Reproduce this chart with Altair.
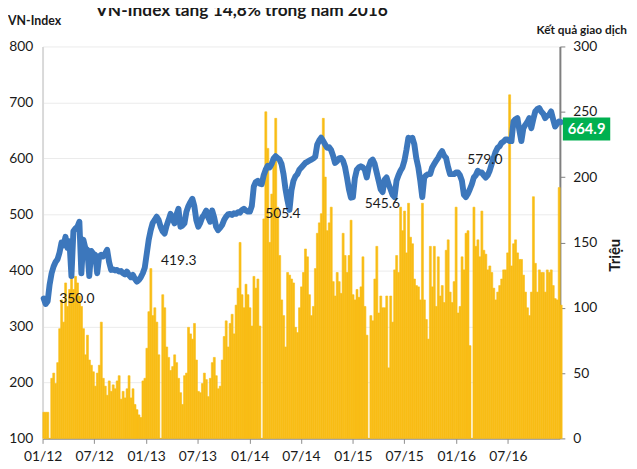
import altair as alt
import pandas as pd

# ---------------- data (weekly) ----------------
week_count = 262  # weeks starting 2012-01-02

vnindex_2012 = [350, 340, 345, 375, 395, 407, 415, 420, 432, 450, 445, 460, 440, 452, 390, 470,
                475, 478, 487, 395, 455, 440, 437, 390, 435, 430, 428, 395, 425, 428, 425, 430,
                437, 415, 401, 402, 400, 401, 398, 399, 395, 393, 398, 392, 388, 392, 385, 380,
                383, 388, 395, 405]
vnindex_2013 = [430, 455, 472, 485, 490, 496, 490, 478, 470, 466, 480, 490, 501, 492, 484, 500,
                510, 478, 480, 484, 505, 515, 522, 528, 515, 490, 478, 485, 495, 500, 507, 495,
                487, 507, 495, 478, 472, 476, 481, 490, 496, 500, 501, 499, 502, 501, 504, 503,
                508, 510, 507, 505]
vnindex_2014 = [505, 515, 550, 558, 560, 555, 554, 570, 580, 587, 584, 590, 600, 604, 601, 598,
                590, 572, 545, 525, 508, 543, 560, 568, 572, 580, 584, 588, 592, 594, 596, 598,
                600, 603, 625, 632, 637, 631, 625, 619, 620, 615, 605, 592, 595, 600, 601, 596,
                585, 566, 545, 530]
vnindex_2015 = [531, 565, 580, 584, 586, 584, 580, 566, 585, 595, 598, 590, 575, 560, 545, 540,
                562, 566, 554, 545, 535, 531, 560, 570, 578, 584, 596, 615, 637, 635, 637, 625,
                600, 584, 560, 531, 566, 570, 572, 572, 584, 590, 596, 601, 608, 613, 605, 601,
                585, 572, 572, 572]
vnindex_2016 = [575, 575, 570, 560, 535, 531, 537, 545, 554, 566, 570, 578, 575, 575, 570, 566,
                570, 578, 590, 601, 612, 619, 622, 628, 630, 634, 634, 631, 631, 666, 670, 672,
                650, 631, 654, 660, 665, 672, 654, 670, 684, 688, 690, 684, 680, 672, 676, 678,
                684, 670, 657, 662, 666, 664.9]

volume_2012 = [20, 20, 20, 0, 46, 50, 42, 58, 84, 106, 89, 119, 101, 114, 124, 114,
               124, 119, 109, 101, 84, 64, 79, 60, 56, 51, 40, 50, 56, 89, 46, 40,
               33, 44, 36, 41, 38, 44, 48, 30, 36, 31, 38, 48, 31, 38, 26, 22,
               18, 16, 44, 46]
volume_2013 = [69, 97, 130, 94, 100, 89, 64, 0, 110, 100, 70, 62, 52, 55, 64, 58,
               46, 35, 26, 48, 50, 85, 80, 76, 88, 60, 36, 35, 42, 50, 45, 32,
               46, 58, 62, 48, 38, 40, 60, 78, 90, 70, 88, 95, 80, 102, 115, 150,
               110, 100, 118, 110]
volume_2014 = [100, 86, 124, 115, 122, 86, 0, 168, 250, 222, 150, 187, 210, 245, 177, 140,
               106, 94, 70, 127, 125, 122, 119, 85, 81, 100, 116, 127, 145, 139, 110, 94,
               101, 130, 157, 165, 172, 245, 200, 159, 165, 177, 120, 109, 127, 120, 111, 157,
               140, 127, 140, 167]
volume_2015 = [110, 106, 114, 108, 116, 139, 101, 79, 0, 94, 90, 122, 147, 96, 109, 100,
               100, 109, 54, 109, 89, 129, 140, 127, 177, 159, 174, 142, 180, 154, 149, 122,
               117, 116, 106, 180, 106, 91, 76, 147, 116, 147, 101, 139, 109, 117, 104, 144,
               152, 112, 104, 120]
volume_2016 = [177, 96, 101, 139, 129, 157, 159, 71, 0, 177, 147, 152, 139, 174, 144, 141,
               129, 132, 127, 115, 106, 112, 117, 122, 129, 129, 142, 263, 132, 149, 152, 142,
               137, 137, 125, 112, 100, 94, 112, 185, 134, 112, 129, 127, 127, 112, 129, 127,
               129, 117, 107, 106, 192, 102]

label_text = ["350.0", "419.3", "505.4", "545.6", "579.0"]
label_date = ["2012-05-01", "2013-04-26", "2014-04-29", "2015-04-15", "2016-04-11"]
label_value = [349, 416, 501, 518, 597]

end_label = "664.9"
title_text = "VN-Index tăng 14,8% trong năm 2016"
left_title = "VN-Index"
right_top_title = "Kết quả giao dịch"
right_axis_title = "Triệu"

# ---------------- tables ----------------
vnindex = vnindex_2012 + vnindex_2013 + vnindex_2014 + vnindex_2015 + vnindex_2016
volume = volume_2012 + volume_2013 + volume_2014 + volume_2015 + volume_2016
start = pd.date_range("2012-01-02", periods=week_count, freq="7D")
df = pd.DataFrame({
    "start": start,
    "end": start + pd.Timedelta(days=7),
    "mid": start + pd.Timedelta(days=3),
    "vnindex": vnindex,
    "volume": volume,
})
lab_df = pd.DataFrame({"text": label_text, "date": pd.to_datetime(label_date), "v": label_value})

FONT = "Lato"
GOLD = "#F9BD16"
BLUE = "#3C77BC"
GREEN = "#00B050"
TXT = "#1a1a1a"

x_scale = alt.Scale(domain=[alt.DateTime(year=2012, month=1, date=1),
                            alt.DateTime(year=2017, month=1, date=1)])
tick_vals = [alt.DateTime(year=y, month=m, date=1) for y in range(2012, 2017) for m in (1, 7)]
x_axis = alt.Axis(values=tick_vals, format="%m/%y", title=None, labelFont=FONT, labelFontSize=14,
                  labelColor=TXT, domainColor="#8c8c8c", domainWidth=1.5, tickColor="#8c8c8c",
                  tickSize=5, labelPadding=6, grid=False, labelFlush=False, labelOverlap=False)

left_scale = alt.Scale(domain=[100, 800], nice=False, zero=False)
left_axis = alt.Axis(orient="left", values=list(range(100, 801, 100)), title=None, labelFont=FONT,
                     labelFontSize=14, labelColor=TXT, labelPadding=10, ticks=False, tickSize=0,
                     domainColor="#d9d9d9", domainWidth=2, grid=True, gridColor="#ebebeb",
                     gridWidth=1)

right_scale = alt.Scale(domain=[0, 300], nice=False)
right_axis = alt.Axis(orient="right", values=[0, 50, 100, 150, 200, 250, 300], title=right_axis_title,
                      titleFont=FONT, titleFontSize=15, titleFontWeight="bold", titleColor=TXT,
                      titleAngle=270, titleX=55, titleY=211, titleAlign="center",
                      titleBaseline="middle", labelFont=FONT, labelFontSize=14, labelColor=TXT,
                      labelPadding=8, tickSize=5, tickColor="#7f7f7f", domainColor="#7f7f7f",
                      domainWidth=2, grid=False)

bars = alt.Chart(df).mark_bar(color=GOLD, stroke=GOLD, strokeWidth=0.6).encode(
    x=alt.X("start:T", scale=x_scale, axis=x_axis),
    x2="end:T",
    y=alt.Y("volume:Q", scale=right_scale, axis=right_axis),
    y2=alt.Y2Datum(0),
)

line = alt.Chart(df).mark_line(color=BLUE, strokeWidth=6, strokeJoin="round", strokeCap="round").encode(
    x=alt.X("mid:T", scale=x_scale, axis=x_axis),
    y=alt.Y("vnindex:Q", scale=left_scale, axis=left_axis),
)

labels = alt.Chart(lab_df).mark_text(font=FONT, fontSize=14, color=TXT).encode(
    x=alt.X("date:T", scale=x_scale, axis=x_axis),
    y=alt.Y("v:Q", scale=left_scale, axis=left_axis),
    text="text:N",
)

end_df = pd.DataFrame({"label": [end_label]})
box = alt.Chart(end_df).mark_rect(color=GREEN).encode(
    x=alt.value(527), x2=alt.value(575),
    y=alt.YDatum(673, scale=left_scale, axis=left_axis),
    y2=alt.Y2Datum(632),
)
box_text = alt.Chart(end_df).mark_text(font=FONT, fontSize=15, fontWeight="bold", color="white").encode(
    x=alt.value(551),
    y=alt.YDatum(652.5, scale=left_scale, axis=left_axis),
    text="label:N",
)

title_df = pd.DataFrame({"t": [title_text]})
title = alt.Chart(title_df).mark_text(font=FONT, fontSize=17.5, fontWeight="bold", color=TXT,
                                      align="left", baseline="alphabetic").encode(
    x=alt.value(54), y=alt.value(-31), text="t:N")

lt_df = pd.DataFrame({"t": [left_title]})
left_t = alt.Chart(lt_df).mark_text(font=FONT, fontSize=12.5, fontWeight="bold", color=TXT,
                                    align="left", baseline="alphabetic").encode(
    x=alt.value(-35), y=alt.value(-22), text="t:N")

rt_df = pd.DataFrame({"t": [right_top_title]})
right_t = alt.Chart(rt_df).mark_text(font=FONT, fontSize=12, fontWeight="bold", color=TXT,
                                     align="right", baseline="alphabetic").encode(
    x=alt.value(592), y=alt.value(-13), text="t:N")

inner = alt.layer(line, labels, box, box_text, title, left_t, right_t)

chart = alt.layer(bars, inner).resolve_scale(y="independent").properties(
    width=524, height=397,
    padding={"left": 35, "top": 36, "right": 70, "bottom": 28},
    autosize=alt.AutoSizeParams(type="none"),
    background="white",
).configure_view(stroke=None)

chart.save("out.html", embed_options={"renderer": "svg", "actions": False})
